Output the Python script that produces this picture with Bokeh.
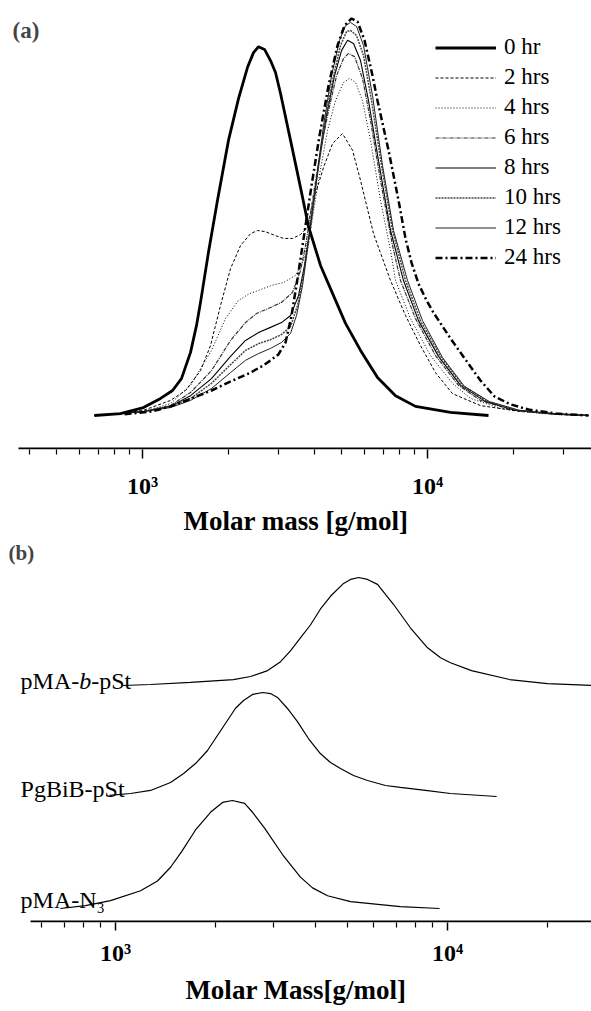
from bokeh.plotting import figure
from bokeh.models import Range1d, FixedTicker, Legend, LegendItem, Label
from bokeh.layouts import column
from bokeh.embed import file_html
from bokeh.resources import INLINE

SERIF = "Liberation Serif"

# ---------------- panel (a): molar mass distributions vs. time ----------------
hours = ["0 hr", "2 hrs", "4 hrs", "6 hrs", "8 hrs", "10 hrs", "12 hrs", "24 hrs"]

m_0hr = [678, 837, 1008, 1157, 1275, 1370, 1474, 1547, 1598, 1704, 1833, 2003, 2172, 2336, 2452, 2553,
         2680, 2813, 2929, 3050, 3307, 3585, 3824, 4213, 4679, 5156, 5821, 6677, 7723, 9077, 12042, 16368]
i_0hr = [0.000, 0.005, 0.020, 0.043, 0.063, 0.093, 0.159, 0.227, 0.285, 0.411, 0.542, 0.693, 0.798, 0.877, 0.914, 0.929,
         0.922, 0.894, 0.864, 0.811, 0.693, 0.574, 0.476, 0.378, 0.302, 0.232, 0.164, 0.096, 0.050, 0.023, 0.008, 0.000]

m_2hr = [678, 837, 1008, 1254, 1416, 1598, 1732, 1878, 2036, 2208, 2393, 2532, 2702, 2929, 3125, 3360, 3585,
         3793, 3981, 4317, 4643, 5032, 5457, 5821, 6465, 7417, 8372, 9450, 10668, 12238, 15348, 21200, 36720]
i_2hr = [0.000, 0.005, 0.013, 0.038, 0.063, 0.113, 0.176, 0.277, 0.370, 0.428, 0.458, 0.466, 0.463, 0.453, 0.446, 0.446, 0.456,
         0.474, 0.542, 0.625, 0.685, 0.710, 0.668, 0.592, 0.458, 0.340, 0.252, 0.176, 0.108, 0.055, 0.025, 0.010, 0.000]

m_4hr = [678, 837, 1008, 1254, 1474, 1746, 1955, 2172, 2373, 2594, 2813, 3125, 3443, 3672, 3886, 4145, 4459,
         4755, 5073, 5326, 5591, 5915, 6310, 6841, 7417, 7723, 8717, 10245, 12238, 14156, 18035, 24920, 36720]
i_4hr = [0.000, 0.005, 0.010, 0.030, 0.076, 0.164, 0.244, 0.290, 0.307, 0.317, 0.327, 0.335, 0.353, 0.390, 0.466, 0.592, 0.718,
         0.793, 0.839, 0.849, 0.839, 0.793, 0.693, 0.542, 0.416, 0.340, 0.244, 0.151, 0.081, 0.043, 0.018, 0.005, 0.000]

m_6hr = [678, 837, 1008, 1254, 1474, 1746, 2036, 2298, 2512, 2813, 3075, 3360, 3585, 3762, 3950, 4213, 4495,
         4796, 5073, 5283, 5546, 5915, 6310, 6841, 7540, 8041, 9077, 10668, 12848, 15348, 19551, 27020, 36720]
i_6hr = [0.000, 0.005, 0.010, 0.025, 0.058, 0.113, 0.189, 0.234, 0.257, 0.272, 0.285, 0.310, 0.365, 0.441, 0.542, 0.668, 0.768,
         0.856, 0.899, 0.912, 0.904, 0.849, 0.743, 0.592, 0.428, 0.340, 0.244, 0.151, 0.076, 0.038, 0.015, 0.005, 0.000]

m_8hr = [678, 837, 1008, 1254, 1474, 1746, 2036, 2298, 2553, 2813, 3075, 3307, 3527, 3702, 3886, 4145, 4423,
         4719, 4992, 5241, 5501, 5821, 6208, 6731, 7417, 8238, 9299, 10930, 13057, 15977, 20360, 28130, 36720]
i_8hr = [0.000, 0.005, 0.010, 0.023, 0.050, 0.093, 0.149, 0.189, 0.209, 0.222, 0.234, 0.252, 0.302, 0.378, 0.479, 0.630, 0.756,
         0.856, 0.919, 0.945, 0.937, 0.894, 0.793, 0.642, 0.466, 0.340, 0.239, 0.149, 0.076, 0.035, 0.013, 0.003, 0.000]

m_10hr = [678, 837, 1008, 1254, 1474, 1746, 2036, 2298, 2553, 2813, 3075, 3307, 3499, 3672, 3855, 4079, 4352,
          4643, 4951, 5198, 5370, 5637, 5963, 6361, 6897, 7540, 8372, 9450, 11107, 13270, 16238, 20692, 28590, 36720]
i_10hr = [0.000, 0.005, 0.010, 0.023, 0.043, 0.081, 0.128, 0.164, 0.181, 0.191, 0.204, 0.224, 0.277, 0.353, 0.453, 0.592, 0.730,
          0.844, 0.932, 0.967, 0.970, 0.957, 0.907, 0.793, 0.630, 0.466, 0.340, 0.239, 0.149, 0.076, 0.035, 0.013, 0.003, 0.000]

m_12hr = [690, 837, 1008, 1254, 1474, 1746, 2036, 2298, 2553, 2813, 3075, 3307, 3471, 3643, 3824, 4046, 4317,
          4606, 4913, 5156, 5370, 5637, 5963, 6413, 6952, 7601, 8508, 9605, 11287, 13486, 16502, 21030, 29060, 36720]
i_12hr = [0.000, 0.005, 0.010, 0.020, 0.038, 0.068, 0.108, 0.139, 0.156, 0.169, 0.184, 0.207, 0.252, 0.327, 0.441, 0.579, 0.730,
          0.856, 0.945, 0.982, 0.990, 0.980, 0.932, 0.806, 0.630, 0.466, 0.340, 0.239, 0.146, 0.073, 0.035, 0.013, 0.003, 0.000]

m_24hr = [865, 1075, 1254, 1450, 1746, 1971, 2393, 2680, 3000, 3176, 3334, 3499, 3702, 3918, 4179, 4495, 4834, 5114, 5413,
          5682, 6011, 6413, 6677, 7298, 7912, 8372, 8788, 9299, 9920, 10498, 12042, 13486, 15348, 17180, 19551, 22620, 28130, 36720]
i_24hr = [0.003, 0.010, 0.023, 0.040, 0.063, 0.081, 0.108, 0.128, 0.154, 0.184, 0.252, 0.345, 0.461, 0.579, 0.705, 0.831, 0.932, 0.982, 1.000,
          0.992, 0.945, 0.856, 0.793, 0.668, 0.542, 0.446, 0.385, 0.332, 0.290, 0.259, 0.194, 0.144, 0.088, 0.048, 0.028, 0.015, 0.005, 0.000]

# ---------------- panel (b): precursors and block copolymer ----------------
samples = ["pMA-N\u2083", "PgBiB-pSt", "pMA-b-pSt"]
offsets = [0.0, 1.037, 2.065]

m_n3 = [682, 812, 966, 1190, 1338, 1465, 1582, 1742, 1933, 2100, 2250, 2449, 2587, 2812, 3184, 3606, 3922, 4352, 5106, 7215, 9463]
i_n3 = [0.000, 0.027, 0.073, 0.164, 0.255, 0.382, 0.527, 0.727, 0.891, 0.982, 1.000, 0.973, 0.891, 0.745, 0.500, 0.291, 0.191,
        0.118, 0.064, 0.018, 0.000]

m_bib = [959, 1110, 1275, 1465, 1604, 1742, 1893, 2028, 2173, 2296, 2430, 2587, 2773, 2930, 3076, 3296, 3532, 3812, 4140, 4441,
         4760, 5211, 5743, 6506, 7215, 8585, 10210, 14060]
i_bib = [0.010, 0.028, 0.056, 0.130, 0.213, 0.305, 0.426, 0.565, 0.704, 0.815, 0.889, 0.945, 0.963, 0.953, 0.917, 0.815, 0.694,
         0.537, 0.398, 0.315, 0.259, 0.195, 0.148, 0.102, 0.084, 0.056, 0.028, 0.000]

m_st = [1050, 1275, 1682, 2265, 2552, 2872, 3142, 3365, 3606, 3865, 4140, 4441, 4864, 5106, 5400, 5743, 6155, 6874, 7740, 8710,
        9530, 10210, 11810, 15380, 20010, 27180]
i_st = [0.000, 0.009, 0.028, 0.055, 0.083, 0.138, 0.220, 0.321, 0.440, 0.560, 0.706, 0.826, 0.945, 0.982, 1.000, 0.982, 0.936,
        0.752, 0.532, 0.349, 0.257, 0.211, 0.138, 0.055, 0.018, 0.000]

major_ticks = [1000, 10000]
tick_labels = {1000: "10\u00b3", 10000: "10\u2074"}
minor_a = [400, 500, 600, 700, 800, 900, 2000, 3000, 4000, 5000, 6000, 7000, 8000, 9000, 20000, 30000]
minor_b = [600, 700, 800, 900, 2000, 3000, 4000, 5000, 6000, 7000, 8000, 9000, 20000]

# visible extent of each x axis line (g/mol)
axis_a_extent = [367.2, 37620]
axis_b_extent = [554.6, 27150]

# line styles for the time series
styles = [
    dict(line_color="black", line_width=2.8, line_dash="solid"),
    dict(line_color="black", line_width=1.0, line_dash="3 2"),
    dict(line_color="black", line_width=1.0, line_dash="1 2"),
    dict(line_color="#333333", line_width=1.2, line_dash="4 1 1 1"),
    dict(line_color="black", line_width=1.1, line_dash="solid"),
    dict(line_color="#444444", line_width=1.5, line_dash="2 1"),
    dict(line_color="#222222", line_width=1.0, line_dash="solid"),
    dict(line_color="black", line_width=2.5, line_dash="7 3 2 3"),
]


def style_axis(ax, minor, tick_out, label_size, label_standoff, title, title_standoff, title_size):
    ax.ticker = FixedTicker(ticks=major_ticks, minor_ticks=minor)
    ax.major_label_overrides = tick_labels
    ax.axis_line_color = None
    ax.major_tick_in = 0
    ax.major_tick_out = tick_out
    ax.minor_tick_in = 0
    ax.minor_tick_out = 5
    ax.major_tick_line_width = 1.5
    ax.minor_tick_line_width = 1.2
    ax.major_tick_line_color = "black"
    ax.minor_tick_line_color = "black"
    ax.major_label_text_font = SERIF
    ax.major_label_text_font_style = "bold"
    ax.major_label_text_font_size = label_size
    ax.major_label_text_color = "black"
    ax.major_label_standoff = label_standoff
    ax.axis_label = title
    ax.axis_label_text_font = SERIF
    ax.axis_label_text_font_style = "bold"
    ax.axis_label_text_font_size = title_size
    ax.axis_label_text_color = "black"
    ax.axis_label_standoff = title_standoff


# ---------------- figure (a) ----------------
ya_lo, ya_hi = -0.0856, 1.0453
p1 = figure(width=591, height=541, x_axis_type="log",
            x_range=Range1d(317.5, 37620), y_range=Range1d(ya_lo, ya_hi),
            y_axis_location=None, output_backend="svg", toolbar_location=None,
            min_border_left=0, min_border_right=0, min_border_top=0, min_border_bottom=92)
p1.grid.visible = False
p1.outline_line_color = None
style_axis(p1.xaxis[0], minor_a, 9, "24px", 14, "Molar mass [g/mol]", 4, "27px")
p1.line(axis_a_extent, [ya_lo + 0.0025] * 2, line_color="black", line_width=2)

series_a = [(m_0hr, i_0hr), (m_2hr, i_2hr), (m_4hr, i_4hr), (m_6hr, i_6hr),
            (m_8hr, i_8hr), (m_10hr, i_10hr), (m_12hr, i_12hr), (m_24hr, i_24hr)]
order = [1, 2, 3, 4, 5, 6, 7, 0]
renderers = [None] * len(series_a)
for k in order:
    xs, ys = series_a[k]
    renderers[k] = p1.line(xs, ys, **styles[k])

legend = Legend(items=[LegendItem(label=h, renderers=[r]) for h, r in zip(hours, renderers)],
                location=(435, 179), glyph_width=61, glyph_height=25, label_height=25,
                spacing=4, padding=10, margin=0, label_standoff=8,
                label_text_font=SERIF, label_text_font_size="23px", label_text_color="black",
                border_line_color=None, background_fill_alpha=0)
p1.add_layout(legend)

p1.add_layout(Label(x=350, y=0.97, text="(a)", text_font=SERIF, text_font_style="bold",
                    text_font_size="23px", text_baseline="middle", text_align="left"))

# ---------------- figure (b) ----------------
yb_lo, yb_hi = -0.1296, 3.3981
p2 = figure(width=591, height=469, x_axis_type="log",
            x_range=Range1d(450.4, 27150), y_range=Range1d(yb_lo, yb_hi),
            y_axis_location=None, output_backend="svg", toolbar_location=None,
            min_border_left=0, min_border_right=0, min_border_top=0, min_border_bottom=88)
p2.grid.visible = False
p2.outline_line_color = None
style_axis(p2.xaxis[0], minor_b, 8, "24px", 9, "Molar Mass[g/mol]", 6, "27px")
p2.line(axis_b_extent, [yb_lo + 0.0093] * 2, line_color="black", line_width=2)

series_b = [(m_n3, i_n3), (m_bib, i_bib), (m_st, i_st)]
for (xs, ys), off in zip(series_b, offsets):
    p2.line(xs, [v + off for v in ys], line_color="black", line_width=1.2)

lab_kw = dict(text_font=SERIF, text_font_size="24px", text_baseline="alphabetic",
              text_align="left", text_color="black")
p2.add_layout(Label(x=517.6, y=2.111, text="pMA-", **lab_kw))
p2.add_layout(Label(x=517.6, y=2.111, x_offset=58.7, text="b", text_font_style="italic", **lab_kw))
p2.add_layout(Label(x=517.6, y=2.111, x_offset=70.7, text="-pSt", **lab_kw))
p2.add_layout(Label(x=517.6, y=1.111, text=samples[1], **lab_kw))
p2.add_layout(Label(x=517.6, y=0.083, text=samples[0], **lab_kw))
p2.add_layout(Label(x=476, y=3.287, text="(b)", text_font=SERIF, text_font_style="bold",
                    text_font_size="21px", text_baseline="middle", text_align="left"))

layout = column(p1, p2)
open("out.html", "w").write(file_html(layout, INLINE))
